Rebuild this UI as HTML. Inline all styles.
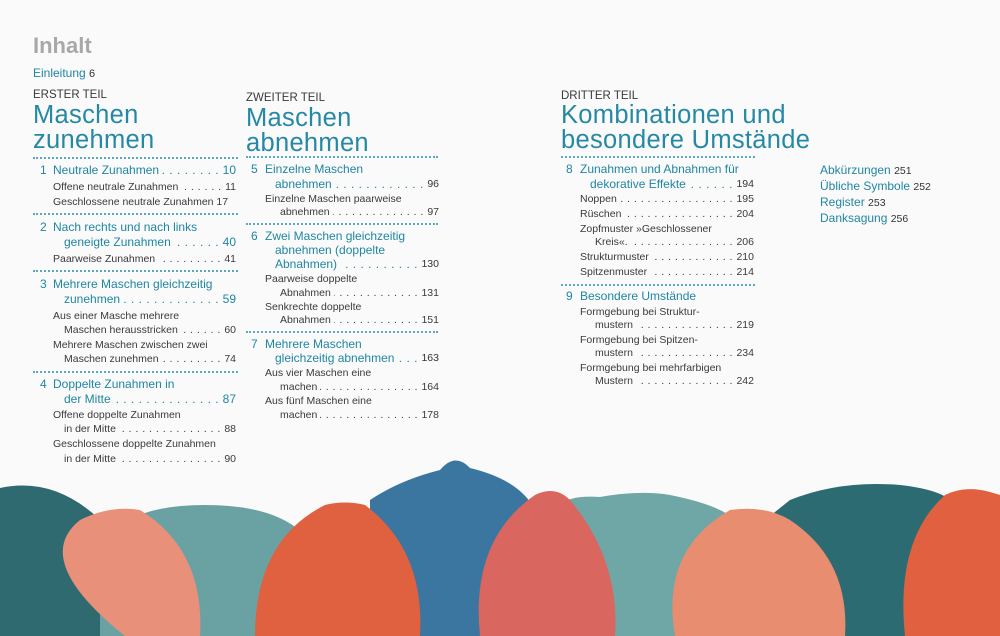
<!DOCTYPE html>
<html><head><meta charset="utf-8">
<style>
body{margin:0;width:1000px;height:636px;background:#fafafa;position:relative;overflow:hidden;font-family:"Liberation Sans",sans-serif;color:#3a3a3a}
.a{position:absolute;white-space:nowrap}
.r{position:absolute;display:flex;white-space:nowrap;font-size:10.5px;line-height:14px;height:14px}
.r i{flex:1;overflow:hidden;position:relative;margin:0 3px}
.r i:before{content:". . . . . . . . . . . . . . . . . . . . . . . . . . . . . . . . . . . . . . . . . . . . . . . . . . . . . . . . . . . . . . .";position:absolute;right:0;letter-spacing:0.5px}
.r b{font-weight:normal}
.bl{color:#1f86a3;font-size:12px}
.h{color:#2589a6;font-size:25.5px;line-height:25px;letter-spacing:0.3px}
.t{font-size:11.5px;color:#3a3a3a}
.d{position:absolute;height:0;border-top:2px dotted #5aa9bf}
.n{position:absolute;color:#1f86a3;font-size:12px}
</style></head><body>
<div class="a" style="left:33px;top:33px;font-size:22px;font-weight:bold;color:#a8a8a8">Inhalt</div>
<div class="a" style="left:33px;top:66px;font-size:12px;color:#1f86a3">Einleitung <span style="color:#333;font-size:11px">6</span></div>

<div class="a t" style="left:33px;top:89px">ERSTER TEIL</div>
<div class="a h" style="left:33px;top:103px">Maschen<br>zunehmen</div>
<div class="d" style="left:33px;top:157px;width:205px"></div>
<div class="n" style="left:40px;top:163px">1</div>
<div class="r bl" style="left:53px;top:163px;width:183px"><span>Neutrale Zunahmen</span><i></i><b>10</b></div>
<div class="r" style="left:53px;top:180px;width:183px"><span>Offene neutrale Zunahmen</span><i></i><b>11</b></div>
<div class="r" style="left:53px;top:195px;width:183px"><span>Geschlossene neutrale Zunahmen</span><b>&nbsp;17</b></div>
<div class="d" style="left:33px;top:213px;width:205px"></div>
<div class="n" style="left:40px;top:220px">2</div>
<div class="a bl" style="left:53px;top:220px">Nach rechts und nach links</div>
<div class="r bl" style="left:64px;top:235px;width:172px"><span>geneigte Zunahmen</span><i></i><b>40</b></div>
<div class="r" style="left:53px;top:252px;width:183px"><span>Paarweise Zunahmen</span><i></i><b>41</b></div>
<div class="d" style="left:33px;top:270px;width:205px"></div>
<div class="n" style="left:40px;top:277px">3</div>
<div class="a bl" style="left:53px;top:277px">Mehrere Maschen gleichzeitig</div>
<div class="r bl" style="left:64px;top:292px;width:172px"><span>zunehmen</span><i></i><b>59</b></div>
<div class="r" style="left:53px;top:309px;width:183px"><span>Aus einer Masche mehrere</span></div>
<div class="r" style="left:64px;top:323px;width:172px"><span>Maschen herausstricken</span><i></i><b>60</b></div>
<div class="r" style="left:53px;top:338px;width:183px"><span>Mehrere Maschen zwischen zwei</span></div>
<div class="r" style="left:64px;top:352px;width:172px"><span>Maschen zunehmen</span><i></i><b>74</b></div>
<div class="d" style="left:33px;top:371px;width:205px"></div>
<div class="n" style="left:40px;top:377px">4</div>
<div class="a bl" style="left:53px;top:377px">Doppelte Zunahmen in</div>
<div class="r bl" style="left:64px;top:392px;width:172px"><span>der Mitte</span><i></i><b>87</b></div>
<div class="r" style="left:53px;top:408px;width:183px"><span>Offene doppelte Zunahmen</span></div>
<div class="r" style="left:64px;top:422px;width:172px"><span>in der Mitte</span><i></i><b>88</b></div>
<div class="r" style="left:53px;top:437px;width:183px"><span>Geschlossene doppelte Zunahmen</span></div>
<div class="r" style="left:64px;top:452px;width:172px"><span>in der Mitte</span><i></i><b>90</b></div>

<div class="a t" style="left:246px;top:92px">ZWEITER TEIL</div>
<div class="a h" style="left:246px;top:106px">Maschen<br>abnehmen</div>
<div class="d" style="left:246px;top:156px;width:192px"></div>
<div class="n" style="left:251px;top:162px">5</div>
<div class="a bl" style="left:265px;top:162px">Einzelne Maschen</div>
<div class="r bl" style="left:275px;top:177px;width:164px"><span>abnehmen</span><i></i><b style="color:#333;font-size:10.5px">96</b></div>
<div class="r" style="left:265px;top:192px;width:174px"><span>Einzelne Maschen paarweise</span></div>
<div class="r" style="left:280px;top:205px;width:159px"><span>abnehmen</span><i></i><b>97</b></div>
<div class="d" style="left:246px;top:223px;width:192px"></div>
<div class="n" style="left:251px;top:229px">6</div>
<div class="a bl" style="left:265px;top:229px">Zwei Maschen gleichzeitig</div>
<div class="a bl" style="left:275px;top:243px">abnehmen (doppelte</div>
<div class="r bl" style="left:275px;top:257px;width:164px"><span>Abnahmen)</span><i></i><b style="color:#333;font-size:10.5px">130</b></div>
<div class="r" style="left:265px;top:272px;width:174px"><span>Paarweise doppelte</span></div>
<div class="r" style="left:280px;top:286px;width:159px"><span>Abnahmen</span><i></i><b>131</b></div>
<div class="r" style="left:265px;top:300px;width:174px"><span>Senkrechte doppelte</span></div>
<div class="r" style="left:280px;top:313px;width:159px"><span>Abnahmen</span><i></i><b>151</b></div>
<div class="d" style="left:246px;top:331px;width:192px"></div>
<div class="n" style="left:251px;top:337px">7</div>
<div class="a bl" style="left:265px;top:337px">Mehrere Maschen</div>
<div class="r bl" style="left:275px;top:351px;width:164px"><span>gleichzeitig abnehmen</span><i></i><b style="color:#333;font-size:10.5px">163</b></div>
<div class="r" style="left:265px;top:366px;width:174px"><span>Aus vier Maschen eine</span></div>
<div class="r" style="left:280px;top:380px;width:159px"><span>machen</span><i></i><b>164</b></div>
<div class="r" style="left:265px;top:394px;width:174px"><span>Aus fünf Maschen eine</span></div>
<div class="r" style="left:280px;top:408px;width:159px"><span>machen</span><i></i><b>178</b></div>

<div class="a t" style="left:561px;top:90px">DRITTER TEIL</div>
<div class="a h" style="left:561px;top:103px">Kombinationen und<br>besondere Umstände</div>
<div class="d" style="left:561px;top:156px;width:194px"></div>
<div class="n" style="left:566px;top:162px">8</div>
<div class="a bl" style="left:580px;top:162px">Zunahmen und Abnahmen für</div>
<div class="r bl" style="left:590px;top:177px;width:164px"><span>dekorative Effekte</span><i></i><b style="color:#333;font-size:10.5px">194</b></div>
<div class="r" style="left:580px;top:192px;width:174px"><span>Noppen</span><i></i><b>195</b></div>
<div class="r" style="left:580px;top:207px;width:174px"><span>Rüschen</span><i></i><b>204</b></div>
<div class="r" style="left:580px;top:222px;width:174px"><span>Zopfmuster »Geschlossener</span></div>
<div class="r" style="left:595px;top:235px;width:159px"><span>Kreis«.</span><i></i><b>206</b></div>
<div class="r" style="left:580px;top:250px;width:174px"><span>Strukturmuster</span><i></i><b>210</b></div>
<div class="r" style="left:580px;top:265px;width:174px"><span>Spitzenmuster</span><i></i><b>214</b></div>
<div class="d" style="left:561px;top:284px;width:194px"></div>
<div class="n" style="left:566px;top:289px">9</div>
<div class="a bl" style="left:580px;top:289px">Besondere Umstände</div>
<div class="r" style="left:580px;top:305px;width:174px"><span>Formgebung bei Struktur-</span></div>
<div class="r" style="left:595px;top:318px;width:159px"><span>mustern</span><i></i><b>219</b></div>
<div class="r" style="left:580px;top:333px;width:174px"><span>Formgebung bei Spitzen-</span></div>
<div class="r" style="left:595px;top:346px;width:159px"><span>mustern</span><i></i><b>234</b></div>
<div class="r" style="left:580px;top:361px;width:174px"><span>Formgebung bei mehrfarbigen</span></div>
<div class="r" style="left:595px;top:374px;width:159px"><span>Mustern</span><i></i><b>242</b></div>

<div class="n" style="left:820px;top:163px">Abkürzungen <span style="color:#333;font-size:10.5px">251</span></div>
<div class="n" style="left:820px;top:179px">Übliche Symbole <span style="color:#333;font-size:10.5px">252</span></div>
<div class="n" style="left:820px;top:195px">Register <span style="color:#333;font-size:10.5px">253</span></div>
<div class="n" style="left:820px;top:211px">Danksagung <span style="color:#333;font-size:10.5px">256</span></div>

<svg class="a" style="left:0;top:440px" width="1000" height="196" viewBox="0 440 1000 196">
<rect x="0" y="580" width="1000" height="60" fill="#4a8a8e"/>
<path d="M0 488 Q60 475 110 530 L120 636 L0 636Z" fill="#2e6a70"/>
<path d="M100 560 Q110 505 205 505 Q300 505 320 560 L330 636 L100 636Z" fill="#6aa2a4"/>
<path d="M300 560 Q320 520 380 520 L420 636 L300 636Z" fill="#4a8a8e"/>
<path d="M370 500 Q400 480 440 470 Q455 452 470 468 Q520 480 535 510 L560 636 L370 636Z" fill="#3a76a0"/>
<path d="M560 505 Q570 495 600 497 Q640 490 670 495 Q720 505 735 520 L760 636 L560 636Z" fill="#6fa6a6"/>
<path d="M740 540 L790 500 Q840 480 900 485 Q945 490 955 505 L960 636 L740 636Z" fill="#2c6b72"/>
<path d="M125 636 Q30 560 80 520 Q110 505 140 510 Q205 550 200 636Z" fill="#e8907a"/>
<path d="M255 636 Q255 540 325 505 Q345 500 365 505 Q425 550 420 636Z" fill="#e0613f"/>
<path d="M480 636 Q470 540 535 495 Q555 485 570 500 Q620 560 615 636Z" fill="#d9675f"/>
<path d="M675 636 Q660 550 730 510 Q765 505 790 520 Q850 560 845 636Z" fill="#e88d6f"/>
<path d="M905 636 Q895 540 945 495 Q965 485 990 492 L1000 495 L1000 636Z" fill="#e0603f"/>
</svg>
</body></html>
